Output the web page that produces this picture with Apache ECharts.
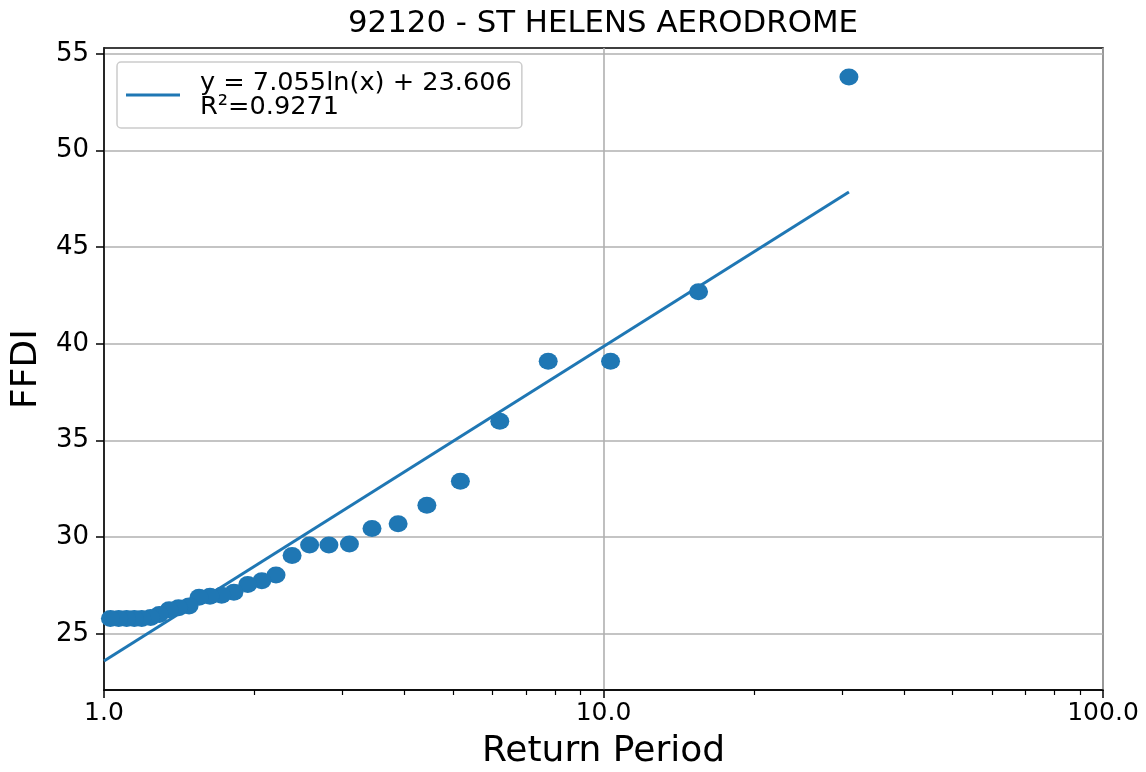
<!DOCTYPE html>
<html>
<head>
<meta charset="utf-8">
<title>92120 - ST HELENS AERODROME</title>
<script src="https://cdn.jsdelivr.net/npm/echarts@6/dist/echarts.min.js"></script>
<style>
  html, body { margin: 0; padding: 0; background: #fff; }
  #chart { width: 1146px; height: 772px; }
</style>
</head>
<body>
<div id="chart"></div>
<script>
// observed points (return period, FFDI)
const returnPeriod = [31.0, 15.5, 10.33, 7.75, 6.2, 5.17, 4.43, 3.88, 3.44, 3.1,
  2.82, 2.58, 2.38, 2.21, 2.07, 1.94, 1.82, 1.72, 1.63, 1.55,
  1.48, 1.41, 1.35, 1.29, 1.24, 1.19, 1.15, 1.11, 1.07, 1.03]
const ffdi = [53.8, 42.7, 39.1, 39.1, 36.0, 32.9, 31.65, 30.7, 30.45, 29.65,
  29.6, 29.6, 29.05, 28.05, 27.75, 27.55, 27.15, 27.0, 26.95, 26.9,
  26.45, 26.35, 26.25, 26.0, 25.85, 25.8, 25.8, 25.8, 25.8, 25.8]

// fitted trend line end points
const trendX = [1.0, 31.0]
const trendY = [23.6, 47.85]
const trendLabel = 'y = 7.055ln(x) + 23.606\nR\u00b2=0.9271'

// axis ticks
const yTicks = [25, 30, 35, 40, 45, 50, 55]
const xMinorTicks = [2, 3, 4, 5, 6, 7, 8, 9, 20, 30, 40, 50, 60, 70, 80, 90]

const font = 'DejaVu Sans'
const blue = '#1f77b4'

const chart = echarts.init(document.getElementById('chart'))

const option = {
  animation: false,
  backgroundColor: '#fff',
  title: {
    text: '92120 - ST HELENS AERODROME',
    left: 348,
    top: 8,
    padding: 0,
    textStyle: { fontFamily: font, fontSize: 30.8, fontWeight: 'normal', color: '#000' }
  },
  legend: {
    left: 117,
    top: 62,
    orient: 'vertical',
    padding: [8, 10, 8, 9],
    icon: 'rect',
    itemWidth: 54,
    itemHeight: 3,
    backgroundColor: 'rgba(255,255,255,0.8)',
    borderColor: '#cccccc',
    borderWidth: 1.5,
    borderRadius: 4,
    data: [trendLabel],
    textStyle: {
      fontFamily: font,
      fontSize: 25.6,
      lineHeight: 24,
      color: '#000',
      padding: [0, 0, 0, 15]
    }
  },
  grid: {
    left: 104,
    right: 43,
    top: 48,
    bottom: 82,
    outerBoundsMode: 'none',
    show: true,
    borderColor: '#000',
    borderWidth: 1.5,
    backgroundColor: 'transparent'
  },
  xAxis: [
    {
      type: 'log',
      logBase: 10,
      min: 1,
      max: 100,
      name: 'Return Period',
      nameLocation: 'middle',
      nameGap: 44,
      nameTextStyle: { fontFamily: font, fontSize: 36, color: '#000' },
      axisLine: { lineStyle: { color: '#000', width: 1.5 } },
      axisTick: { length: 8, lineStyle: { color: '#000', width: 1.5 } },
      axisLabel: {
        margin: 11,
        fontFamily: font,
        fontSize: 25,
        color: '#000',
        formatter: v => Number(v).toFixed(1)
      },
      splitLine: { show: true, lineStyle: { color: '#b0b0b0', width: 1.6 } }
    },
    {
      type: 'log',
      logBase: 10,
      min: 1,
      max: 100,
      position: 'bottom',
      axisLine: { show: false },
      axisTick: { length: 5, customValues: xMinorTicks, lineStyle: { color: '#000', width: 1.2 } },
      axisLabel: { show: false },
      splitLine: { show: false }
    }
  ],
  yAxis: {
    type: 'value',
    min: 22.1,
    max: 55.3,
    name: 'FFDI',
    nameLocation: 'middle',
    nameGap: 56,
    nameTextStyle: { fontFamily: font, fontSize: 36, color: '#000' },
    axisLine: { show: true, lineStyle: { color: '#000', width: 1.5 } },
    axisTick: { show: true, length: 8, customValues: yTicks, lineStyle: { color: '#000', width: 1.5 } },
    axisLabel: {
      margin: 15,
      fontFamily: font,
      fontSize: 26,
      color: '#000',
      customValues: yTicks
    },
    splitLine: { show: true, lineStyle: { color: '#b0b0b0', width: 1.6 } }
  },
  series: [
    {
      name: trendLabel,
      type: 'line',
      data: trendX.map((x, i) => [x, trendY[i]]),
      symbol: 'none',
      lineStyle: { color: blue, width: 3 },
      itemStyle: { color: blue },
      z: 3
    },
    {
      name: 'FFDI',
      type: 'scatter',
      data: returnPeriod.map((x, i) => [x, ffdi[i]]),
      symbol: 'circle',
      symbolSize: [19, 17],
      itemStyle: { color: blue, opacity: 1 },
      z: 4
    }
  ]
}

chart.setOption(option)
</script>
</body>
</html>
